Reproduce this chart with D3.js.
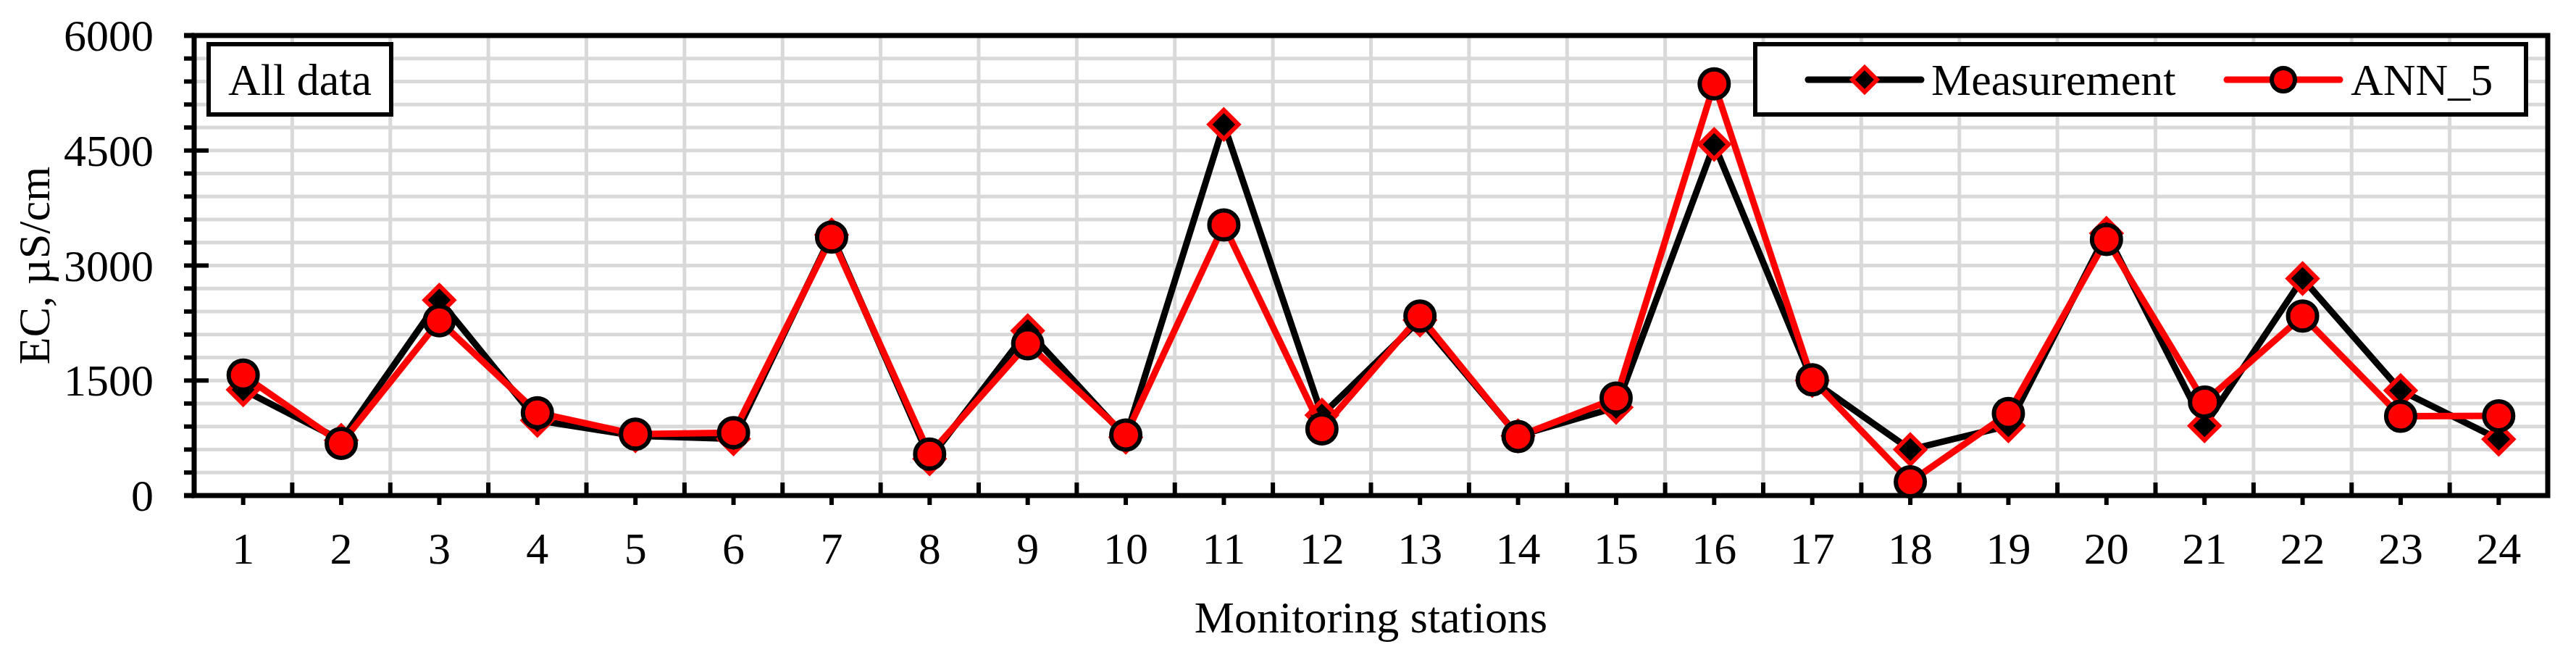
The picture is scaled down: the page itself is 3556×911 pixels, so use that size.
<!DOCTYPE html>
<html>
<head>
<meta charset="utf-8">
<script src="https://cdn.jsdelivr.net/npm/d3@7"></script>
<style>
  html, body { margin: 0; padding: 0; background: #fff; }
  svg { display: block; }
  text { font-family: "Liberation Serif", "Times New Roman", serif; fill: #000; }
</style>
</head>
<body>
<svg id="chart" width="3556" height="911"></svg>
<script>
// ---- data ----
const stations = ["1","2","3","4","5","6","7","8","9","10","11","12","13","14","15","16","17","18","19","20","21","22","23","24"];
const measurement = [1380, 720, 2550, 980, 780, 740, 3400, 480, 2150, 760, 4840, 1050, 2290, 780, 1150, 4580, 1500, 600, 910, 3420, 910, 2830, 1370, 735];
const ann5 = [1570, 680, 2280, 1080, 800, 820, 3370, 540, 1980, 790, 3530, 870, 2340, 770, 1270, 5370, 1510, 180, 1070, 3340, 1220, 2340, 1035, 1040];
const yMajorTicks = [0, 1500, 3000, 4500, 6000];
const yMinorStep = 300;
const seriesNames = ["Measurement", "ANN_5"];
const xTitle = "Monitoring stations";
const yTitle = "EC, µS/cm";
const panelLabel = "All data";

// ---- layout ----
const L = 268, R = 3517, T = 49, B = 684;
const FS = 62;
const svg = d3.select("#chart");

const x = d3.scaleBand().domain(stations).range([L, R]).padding(0);
const y = d3.scaleLinear().domain([0, 6000]).range([B, T]);

const minorVals = d3.range(yMinorStep, 6000, yMinorStep);
const grid = "#d9d9d9";
const AX = 7;

// horizontal gridlines
svg.append("g").selectAll("line").data(minorVals).join("line")
  .attr("x1", L).attr("x2", R)
  .attr("y1", d => y(d)).attr("y2", d => y(d))
  .attr("stroke", grid).attr("stroke-width", 5);

// vertical gridlines at category boundaries
const bounds = stations.slice(1).map(s => x(s));
svg.append("g").selectAll("line").data(bounds).join("line")
  .attr("x1", d => d).attr("x2", d => d)
  .attr("y1", T).attr("y2", B)
  .attr("stroke", grid).attr("stroke-width", 5);

// x boundary ticks (inside, upward)
svg.append("g").selectAll("line").data(bounds).join("line")
  .attr("x1", d => d).attr("x2", d => d)
  .attr("y1", B).attr("y2", B - 18)
  .attr("stroke", "#000").attr("stroke-width", 6);

// x center ticks (outside, downward)
svg.append("g").selectAll("line").data(stations).join("line")
  .attr("x1", d => x(d) + x.bandwidth() / 2).attr("x2", d => x(d) + x.bandwidth() / 2)
  .attr("y1", B).attr("y2", B + 13)
  .attr("stroke", "#000").attr("stroke-width", 6);

// y minor ticks (outside)
svg.append("g").selectAll("line").data(minorVals.filter(v => !yMajorTicks.includes(v))).join("line")
  .attr("x1", L - 14).attr("x2", L)
  .attr("y1", d => y(d)).attr("y2", d => y(d))
  .attr("stroke", "#000").attr("stroke-width", 6);

// y major ticks (crossing)
svg.append("g").selectAll("line").data(yMajorTicks).join("line")
  .attr("x1", L - 14).attr("x2", L + 20)
  .attr("y1", d => y(d)).attr("y2", d => y(d))
  .attr("stroke", "#000").attr("stroke-width", 6);

// plot border / axes
svg.append("rect")
  .attr("x", L).attr("y", T).attr("width", R - L).attr("height", B - T)
  .attr("fill", "none").attr("stroke", "#000").attr("stroke-width", AX);
svg.append("line").attr("x1", L - 14).attr("x2", L).attr("y1", T).attr("y2", T)
  .attr("stroke", "#000").attr("stroke-width", AX);
svg.append("line").attr("x1", L - 14).attr("x2", L).attr("y1", B).attr("y2", B)
  .attr("stroke", "#000").attr("stroke-width", AX);

// y tick labels
svg.append("g").selectAll("text").data(yMajorTicks).join("text")
  .attr("x", 212).attr("y", d => y(d) + 21)
  .attr("text-anchor", "end").attr("font-size", FS)
  .text(d => d);

// x tick labels
svg.append("g").selectAll("text").data(stations).join("text")
  .attr("x", d => x(d) + x.bandwidth() / 2).attr("y", 778)
  .attr("text-anchor", "middle").attr("font-size", FS)
  .text(d => d);

// axis titles
svg.append("text").attr("x", (L + R) / 2).attr("y", 873)
  .attr("text-anchor", "middle").attr("font-size", FS).text(xTitle);
svg.append("text").attr("transform", `translate(68,${(T + B) / 2}) rotate(-90)`)
  .attr("text-anchor", "middle").attr("font-size", FS).text(yTitle);

// series
const cx = i => x(stations[i]) + x.bandwidth() / 2;
const lineGen = d3.line().x((d, i) => cx(i)).y(d => y(d));
const diamond = (s) => `M0,${-s}L${s},0L0,${s}L${-s},0Z`;
const LW = 9;

// Measurement
svg.append("path").datum(measurement).attr("d", lineGen)
  .attr("fill", "none").attr("stroke", "#000").attr("stroke-width", LW)
  .attr("stroke-linejoin", "round").attr("stroke-linecap", "round");
svg.append("g").selectAll("path").data(measurement).join("path")
  .attr("transform", (d, i) => `translate(${cx(i)},${y(d)})`)
  .attr("d", diamond(20))
  .attr("fill", "#000").attr("stroke", "#ff0000").attr("stroke-width", 6)
  .attr("stroke-linejoin", "miter");

// ANN_5
svg.append("path").datum(ann5).attr("d", lineGen)
  .attr("fill", "none").attr("stroke", "#ff0000").attr("stroke-width", LW)
  .attr("stroke-linejoin", "round").attr("stroke-linecap", "round");
svg.append("g").selectAll("circle").data(ann5).join("circle")
  .attr("cx", (d, i) => cx(i)).attr("cy", d => y(d)).attr("r", 20)
  .attr("fill", "#ff0000").attr("stroke", "#000").attr("stroke-width", 6);

// panel label box
svg.append("rect").attr("x", 288).attr("y", 61).attr("width", 252).attr("height", 97)
  .attr("fill", "#fff").attr("stroke", "#000").attr("stroke-width", 6);
svg.append("text").attr("x", 414).attr("y", 131).attr("text-anchor", "middle")
  .attr("font-size", FS).text(panelLabel);

// legend
const lg = svg.append("g");
lg.append("rect").attr("x", 2423).attr("y", 61).attr("width", 1064).attr("height", 97)
  .attr("fill", "#fff").attr("stroke", "#000").attr("stroke-width", 6);
const ly = 110;
lg.append("line").attr("x1", 2496).attr("x2", 2652).attr("y1", ly).attr("y2", ly)
  .attr("stroke", "#000").attr("stroke-width", LW).attr("stroke-linecap", "round");
lg.append("path").attr("transform", `translate(2574,${ly})`).attr("d", diamond(17))
  .attr("fill", "#000").attr("stroke", "#ff0000").attr("stroke-width", 6);
lg.append("text").attr("x", 2666).attr("y", ly + 21).attr("font-size", FS).text(seriesNames[0]);
lg.append("line").attr("x1", 3074).attr("x2", 3230).attr("y1", ly).attr("y2", ly)
  .attr("stroke", "#ff0000").attr("stroke-width", LW).attr("stroke-linecap", "round");
lg.append("circle").attr("cx", 3152).attr("cy", ly).attr("r", 16)
  .attr("fill", "#ff0000").attr("stroke", "#000").attr("stroke-width", 6);
lg.append("text").attr("x", 3245).attr("y", ly + 21).attr("font-size", FS).text(seriesNames[1]);
</script>
</body>
</html>
